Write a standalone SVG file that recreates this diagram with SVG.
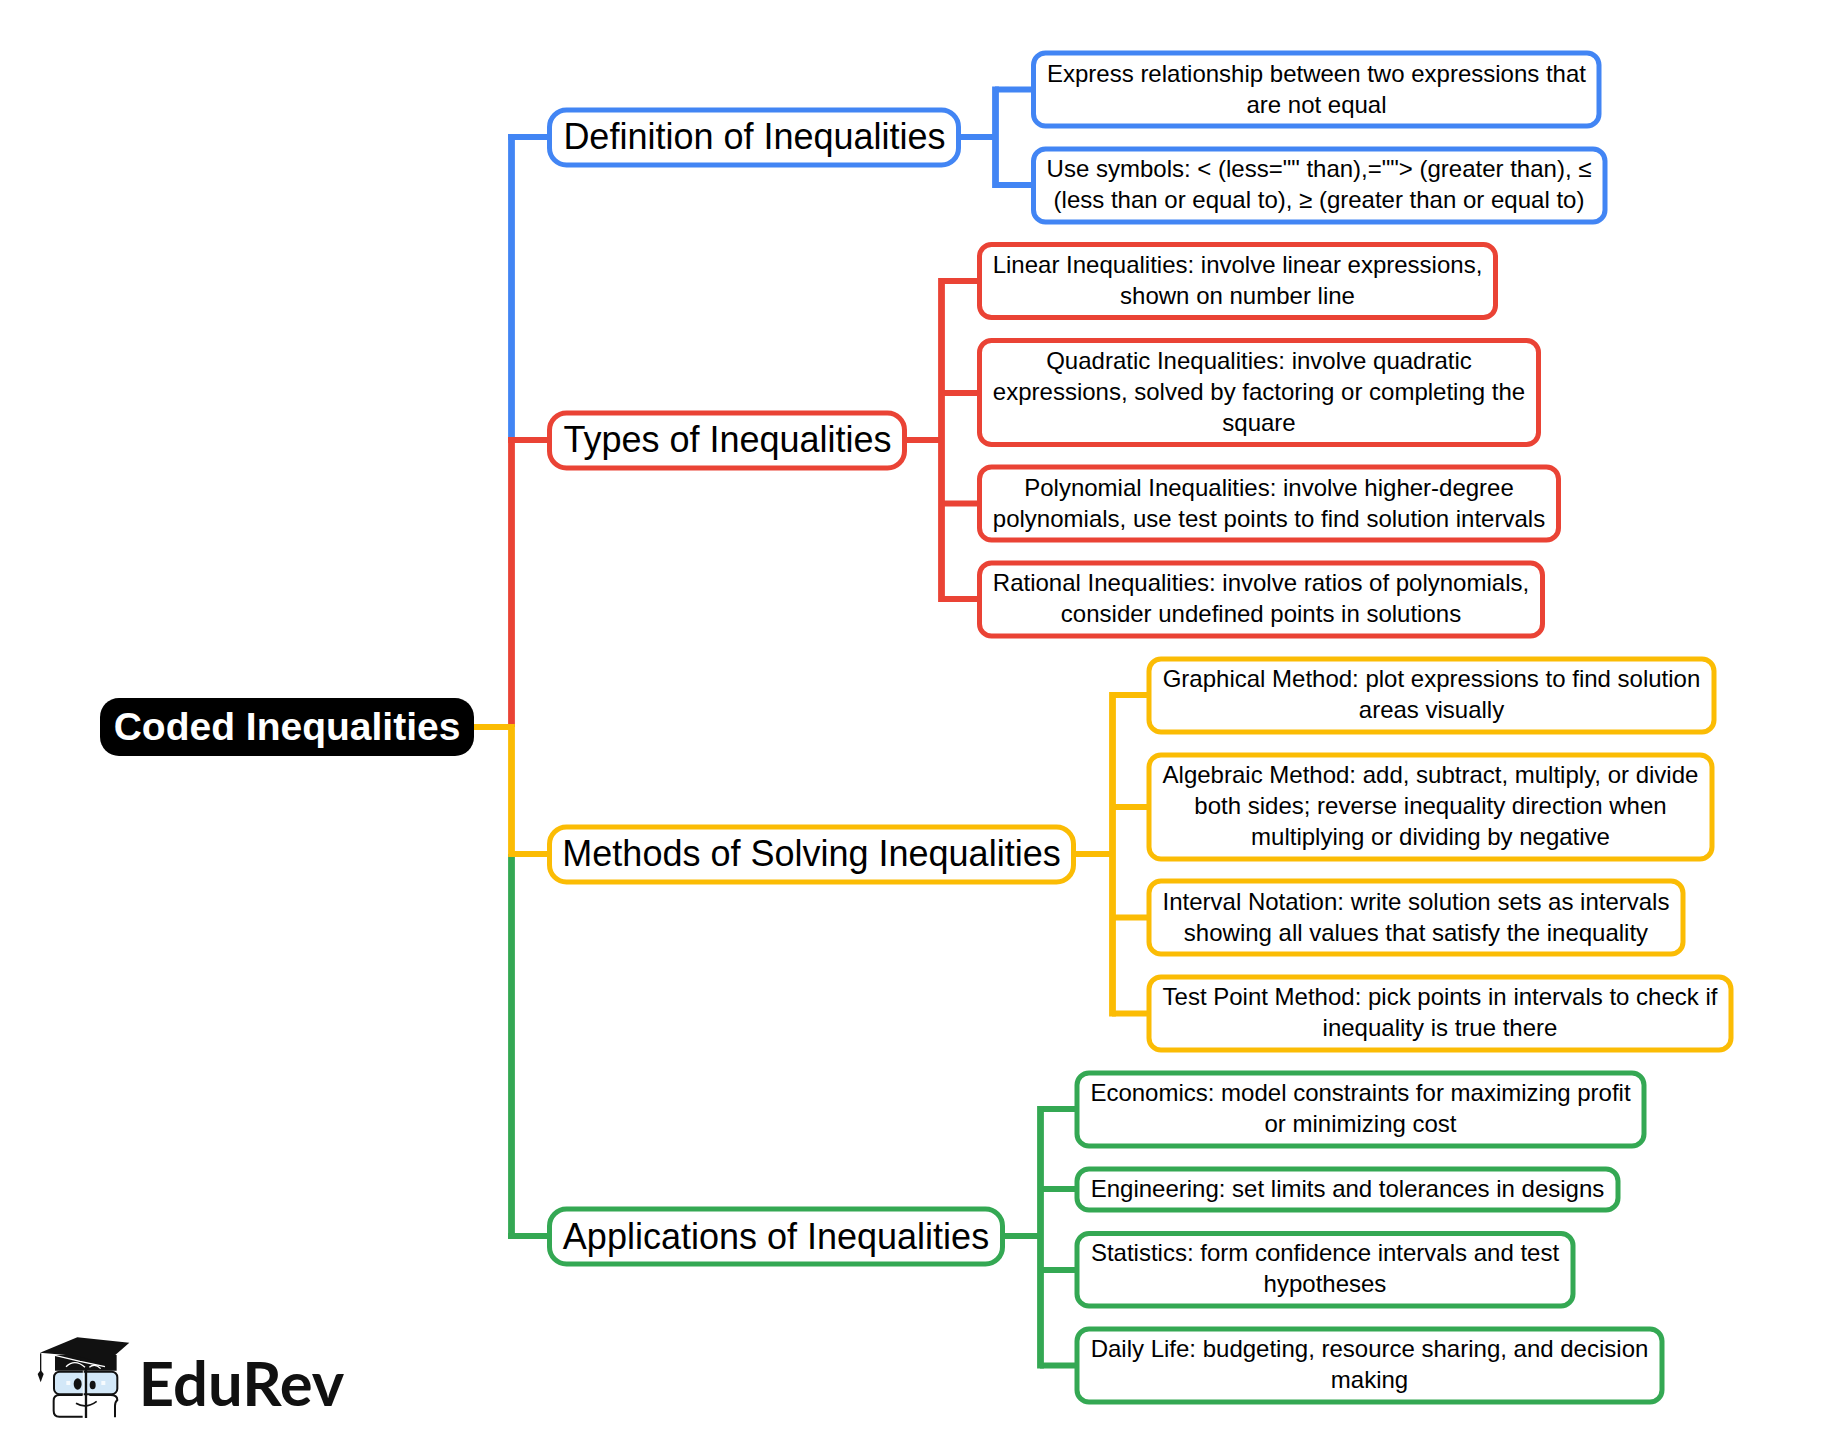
<svg xmlns="http://www.w3.org/2000/svg" width="1834" height="1454" viewBox="0 0 1834 1454">
<style>
text{font-family:"Liberation Sans",Arial,sans-serif;fill:#000;text-anchor:middle}
.c{font-size:24px}.p{font-size:36px}
.n{fill:#fff;stroke-width:5}.pn{fill:#fff;stroke-width:5}
.b{stroke:#4285f4}.r{stroke:#ea4335}.y{stroke:#fbbc04}.g{stroke:#34a853}
.l{fill:none;stroke-width:6}.v{fill:none;stroke-width:6.800}
</style>
<rect width="1834" height="1454" fill="#fff"/>
<g id="connectors">
<path class="v g" d="M511.500 854V1239"/><path class="l g" d="M508 1236H548"/>
<path class="v b" d="M511.500 440V134"/><path class="l b" d="M508 137H548"/>
<path class="v r" d="M511.500 727V437"/><path class="l r" d="M508 440H548"/>
<path class="v y" d="M511.500 724V857"/><path class="l y" d="M474 727H511.500M511.500 854H548"/>
<path class="l b" d="M959 137H995M995 89.500H1033M995 185H1033"/><path class="v b" d="M995.500 86.500V188"/>
<path class="l r" d="M904 440H941M941 281H979M941 393H979M941 503.500H979M941 599H979"/><path class="v r" d="M941.500 278V602"/>
<path class="l y" d="M1074 854H1112M1112 695H1148M1112 807H1148M1112 917.500H1148M1112 1013.500H1148"/><path class="v y" d="M1112.500 692V1016.500"/>
<path class="l g" d="M1002 1236H1040M1040 1109H1076M1040 1189H1076M1040 1270H1076M1040 1365.500H1076"/><path class="v g" d="M1040.500 1106V1368.500"/>
</g>
<g id="root"><rect x="100" y="698" width="374" height="58" rx="19" fill="#000"/><text x="287" y="740" font-size="39" font-weight="700" style="fill:#fff">Coded Inequalities</text></g>
<g id="definition"><rect class="pn b" x="549.500" y="110" width="409" height="55" rx="17"/><text class="p" x="754.500" y="149">Definition of Inequalities</text></g>
<g id="types"><rect class="pn r" x="549.500" y="413" width="355" height="55" rx="17"/><text class="p" x="727.500" y="452">Types of Inequalities</text></g>
<g id="methods"><rect class="pn y" x="549.500" y="827" width="524" height="55" rx="17"/><text class="p" x="811.500" y="866">Methods of Solving Inequalities</text></g>
<g id="applications"><rect class="pn g" x="549.500" y="1209" width="453" height="55" rx="17"/><text class="p" x="776" y="1248.500">Applications of Inequalities</text></g>

<g id="d1"><rect class="n b" x="1033.500" y="53" width="565.500" height="73" rx="12"/><text class="c" x="1316.500" y="82">Express relationship between two expressions that</text><text class="c" x="1316.500" y="113">are not equal</text></g>
<g id="d2"><rect class="n b" x="1033.500" y="149" width="571.500" height="73" rx="12"/><text class="c" x="1319" y="176.500">Use symbols: &lt; (less="" than),=""&gt; (greater than), ≤</text><text class="c" x="1319" y="207.500">(less than or equal to), ≥ (greater than or equal to)</text></g>

<g id="t1"><rect class="n r" x="979.500" y="244.500" width="516" height="73" rx="12"/><text class="c" x="1237.500" y="273">Linear Inequalities: involve linear expressions,</text><text class="c" x="1237.500" y="304">shown on number line</text></g>
<g id="t2"><rect class="n r" x="979.500" y="340.500" width="559" height="104" rx="12"/><text class="c" x="1259" y="369">Quadratic Inequalities: involve quadratic</text><text class="c" x="1259" y="400">expressions, solved by factoring or completing the</text><text class="c" x="1259" y="431">square</text></g>
<g id="t3"><rect class="n r" x="979.500" y="467" width="579" height="73" rx="12"/><text class="c" x="1269" y="496">Polynomial Inequalities: involve higher-degree</text><text class="c" x="1269" y="527">polynomials, use test points to find solution intervals</text></g>
<g id="t4"><rect class="n r" x="979.500" y="563" width="563" height="73" rx="12"/><text class="c" x="1261" y="590.500">Rational Inequalities: involve ratios of polynomials,</text><text class="c" x="1261" y="621.500">consider undefined points in solutions</text></g>

<g id="m1"><rect class="n y" x="1149" y="659" width="565" height="73" rx="12"/><text class="c" x="1431.500" y="686.500">Graphical Method: plot expressions to find solution</text><text class="c" x="1431.500" y="717.500">areas visually</text></g>
<g id="m2"><rect class="n y" x="1149" y="755" width="563" height="104" rx="12"/><text class="c" x="1430.500" y="782.500">Algebraic Method: add, subtract, multiply, or divide</text><text class="c" x="1430.500" y="813.500">both sides; reverse inequality direction when</text><text class="c" x="1430.500" y="844.500">multiplying or dividing by negative</text></g>
<g id="m3"><rect class="n y" x="1149" y="881" width="534" height="73" rx="12"/><text class="c" x="1416" y="910">Interval Notation: write solution sets as intervals</text><text class="c" x="1416" y="941">showing all values that satisfy the inequality</text></g>
<g id="m4"><rect class="n y" x="1149" y="977" width="582" height="73" rx="12"/><text class="c" x="1440" y="1004.500">Test Point Method: pick points in intervals to check if</text><text class="c" x="1440" y="1035.500">inequality is true there</text></g>

<g id="a1"><rect class="n g" x="1077" y="1073" width="567" height="73" rx="12"/><text class="c" x="1360.500" y="1101">Economics: model constraints for maximizing profit</text><text class="c" x="1360.500" y="1132">or minimizing cost</text></g>
<g id="a2"><rect class="n g" x="1077" y="1169" width="541" height="41" rx="12"/><text class="c" x="1347.500" y="1196.500">Engineering: set limits and tolerances in designs</text></g>
<g id="a3"><rect class="n g" x="1077" y="1233.500" width="496" height="72.500" rx="12"/><text class="c" x="1325" y="1261">Statistics: form confidence intervals and test</text><text class="c" x="1325" y="1292">hypotheses</text></g>
<g id="a4"><rect class="n g" x="1077" y="1329" width="585" height="73" rx="12"/><text class="c" x="1369.500" y="1356.500">Daily Life: budgeting, resource sharing, and decision</text><text class="c" x="1369.500" y="1387.500">making</text></g>

<g id="logo">
<g transform="translate(0 1320) scale(.3333)">
<path d="M165 105H350V152H165Z" fill="#111"/>
<rect x="162" y="155" width="190" height="68" rx="17" fill="#d3e8f8" stroke="#111" stroke-width="6"/>
<path d="M248 225H178Q161 225 161 242V272Q161 290 178 290H248M268 225H332Q352 225 352 240Q345 246 345 258V292" fill="none" stroke="#111" stroke-width="6"/>
<path d="M258 150V294" stroke="#111" stroke-width="7"/><path d="M250 152V288" stroke="#fff" stroke-width="2.500"/>
<path d="M165 106L240 124L315 140" fill="none" stroke="#fff" stroke-width="4"/>
<path d="M120 98L232 52L388 68L315 132L232 108Z" fill="#111"/>
<path d="M122 100V155" stroke="#111" stroke-width="4"/><path d="M113 162L122 150L131 162L122 187Z" fill="#111"/>
<path d="M198 140Q225 115 255 142M268 142Q285 128 302 146" fill="none" stroke="#fff" stroke-width="4"/>
<ellipse cx="233" cy="192" rx="12" ry="17" fill="#111"/><ellipse cx="278" cy="195" rx="9" ry="13" fill="#111"/>
<rect x="199" y="183" width="12" height="12" fill="#fff" opacity=".8"/><rect x="304" y="183" width="12" height="12" fill="#fff" opacity=".8"/>
<path d="M228 250Q258 268 290 244" fill="none" stroke="#111" stroke-width="5"/>
</g>
<text x="241.500" y="1406" font-size="61.500" font-weight="700" style="font-family:Lato,sans-serif;fill:#111">EduRev</text>
</g>
</svg>
